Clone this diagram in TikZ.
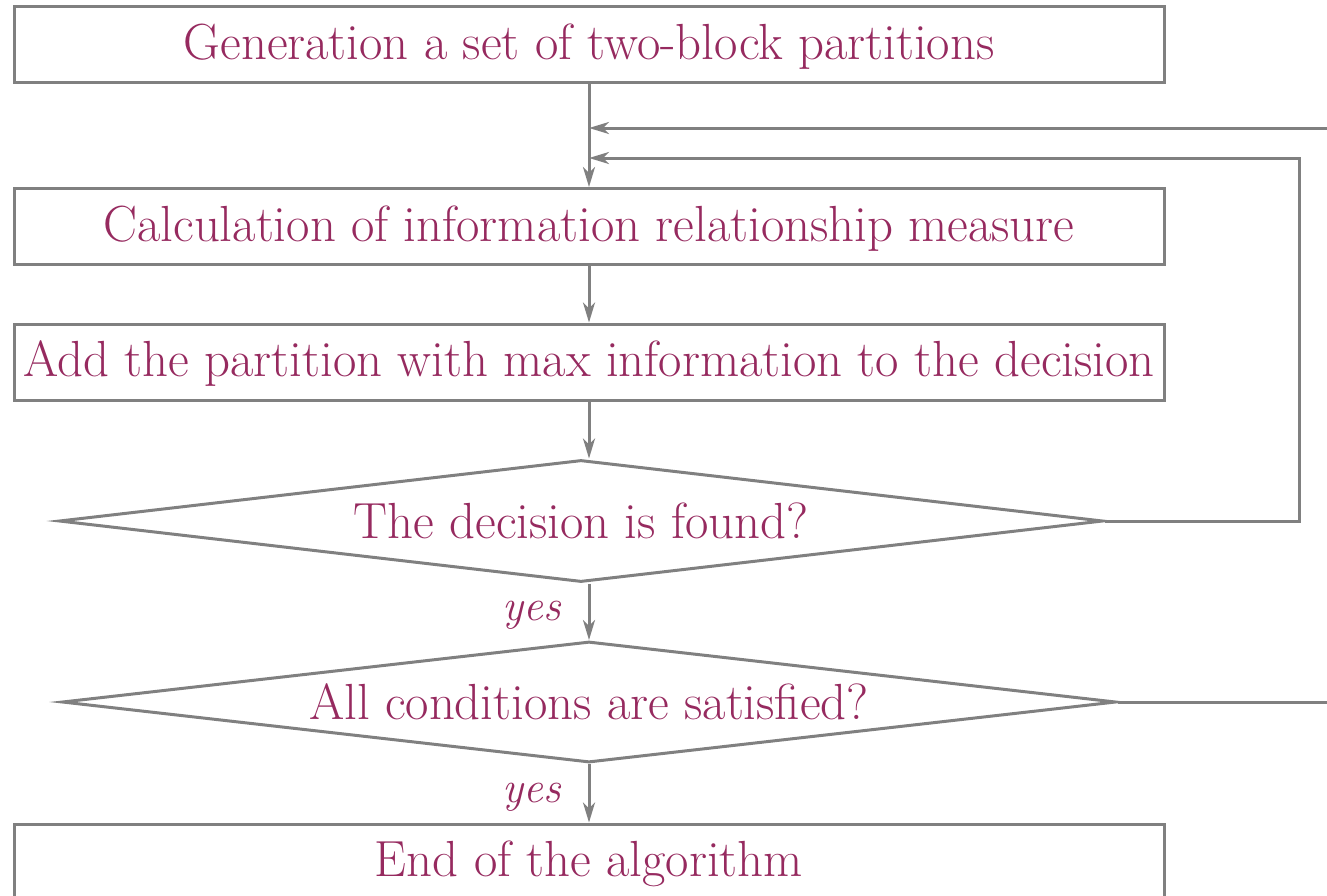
\documentclass[tikz,border=0pt]{standalone}
\usepackage{fontspec}
\usetikzlibrary{shapes.geometric,arrows.meta}
\definecolor{linegray}{RGB}{128,128,128}
\definecolor{textplum}{RGB}{150,42,95}
\tikzset{
  flowline/.style={draw=linegray, line width=1.5pt},
  flowarrow/.style={flowline, -{Stealth[length=10pt,width=6pt,inset=3pt]}},
  labeltext/.style={text=textplum, font=\fontsize{25.4}{30}\selectfont},
  stepbox/.style={draw=linegray, line width=1.5pt, rectangle, minimum width=575pt,
    minimum height=38pt, inner sep=0pt, text height=19.5pt, text depth=5pt, labeltext},
  decision/.style={draw=linegray, line width=1.5pt, diamond, inner sep=0pt, labeltext},
  yeslabel/.style={text=textplum, font=\fontsize{22}{26}\selectfont\itshape,
    anchor=east, xshift=-10pt, yshift=-2pt}
}
\begin{document}
\begin{tikzpicture}[x=0.5pt,y=-0.5pt]
  \useasboundingbox (0,0) rectangle (1327,895);

  % process steps
  \node[stepbox] (b1) at (589,44.5) {Generation a set of two-block partitions};
  \node[stepbox] (b2) at (589,226.5) {Calculation of information relationship measure};
  \node[stepbox] (b3) at (589,362) {Add the partition with max information to the decision};
  \node[decision, minimum width=522pt, minimum height=61pt, aspect=8.56] (d1) at (581,521) {The decision is found?};
  \node[decision, minimum width=527pt, minimum height=60.5pt, aspect=8.7] (d2) at (589,702) {All conditions are satisfied?};
  \node[stepbox] (b4) at (589,862) {End of the algorithm};

  % junctions on the main line and the loose ends on the right
  \coordinate (j1) at (589,128);
  \coordinate (j2) at (589,158);
  \coordinate (in1) at (1327,128);
  \coordinate (c1) at (1299,521);

  % main flow
  \draw[flowarrow] (b1.south) -- (b2.north);
  \draw[flowarrow] (b2.south) -- (b3.north);
  \draw[flowarrow] (b3.south) -- (b3.south |- d1.north);
  \draw[flowarrow] (b3.south |- d1.south) -- (d2.north)
    node[yeslabel, pos=0.5] {yes};
  \draw[flowarrow] (d2.south) -- (b4.north)
    node[yeslabel, pos=0.5] {yes};

  % feedback lines
  \draw[flowarrow] (in1) -- (j1);
  \draw[flowarrow] (d1.east) -- (c1) -- (c1 |- j2) -- (j2);
  \draw[flowline] (d2.east) -- (d2.east -| in1);
\end{tikzpicture}
\end{document}
